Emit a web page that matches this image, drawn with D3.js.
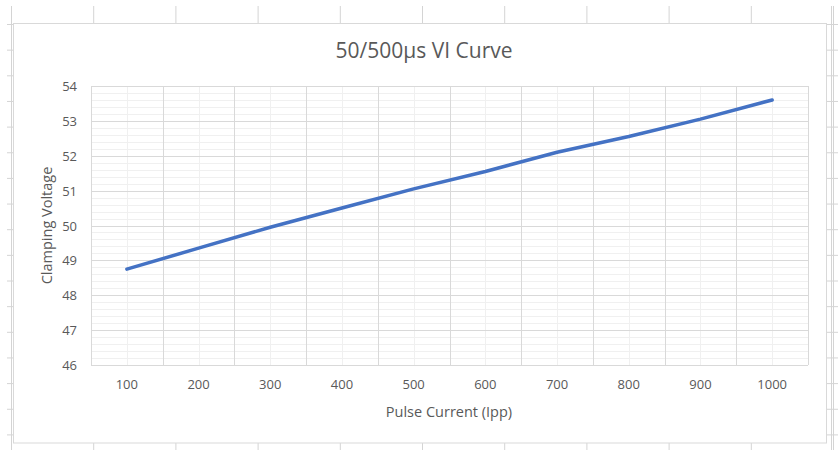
<!DOCTYPE html>
<html>
<head>
<meta charset="utf-8">
<script src="https://cdn.jsdelivr.net/npm/d3@7"></script>
<style>
  body { margin: 0; background: #fff; }
  text { font-family: "Open Sans", sans-serif; }
</style>
</head>
<body>
<svg width="838" height="450"></svg>
<script>
// data
const categories = [100, 200, 300, 400, 500, 600, 700, 800, 900, 1000];
const clampingVoltage = [48.75, 49.35, 49.95, 50.5, 51.05, 51.55, 52.1, 52.55, 53.05, 53.6];
const yTickValues = [46, 47, 48, 49, 50, 51, 52, 53, 54];
const chartTitle = "50/500µs VI Curve";
const xTitle = "Pulse Current (Ipp)";
const yTitle = "Clamping Voltage";

const svg = d3.select("svg");

// spreadsheet cells behind the chart
const sheet = svg.append("g").attr("stroke", "#d4d4d4").attr("stroke-width", 1);
const colW = 82.2, rowH = 25.65;
for (let cx = 11.5; cx < 840; cx += colW) {
  sheet.append("line").attr("x1", cx).attr("x2", cx).attr("y1", 6).attr("y2", 450);
}
sheet.append("line").attr("x1", 831.5).attr("x2", 831.5).attr("y1", 6).attr("y2", 450);
for (let ry = 24.5; ry < 450; ry += rowH) {
  sheet.append("line").attr("x1", 7).attr("x2", 14).attr("y1", ry).attr("y2", ry);
  sheet.append("line").attr("x1", 826).attr("x2", 838).attr("y1", ry).attr("y2", ry);
}

// chart area
svg.append("rect")
  .attr("x", 13.5).attr("y", 23.5).attr("width", 813).attr("height", 419.5)
  .attr("fill", "#fff").attr("stroke", "#d9d9d9");

const plot = { left: 91, right: 808, top: 86, bottom: 365 };

const x = d3.scaleBand().domain(categories).range([plot.left, plot.right]).padding(0);
const y = d3.scaleLinear().domain([46, 54]).range([plot.bottom, plot.top]);

const g = svg.append("g");

// minor gridlines
const minorY = d3.range(46, 54.001, 0.2).filter((v) => Math.abs(v - Math.round(v)) > 0.01);
g.selectAll(".minor-h").data(minorY).enter().append("line")
  .attr("x1", plot.left).attr("x2", plot.right)
  .attr("y1", (d) => Math.round(y(d)) + 0.5).attr("y2", (d) => Math.round(y(d)) + 0.5)
  .attr("stroke", "#f0f0f0");
g.selectAll(".minor-v").data(categories).enter().append("line")
  .attr("x1", (d) => Math.round(x(d) + x.bandwidth() / 2) + 0.5)
  .attr("x2", (d) => Math.round(x(d) + x.bandwidth() / 2) + 0.5)
  .attr("y1", plot.top).attr("y2", plot.bottom)
  .attr("stroke", "#f0f0f0");

// major gridlines
g.selectAll(".major-h").data(yTickValues).enter().append("line")
  .attr("x1", plot.left).attr("x2", plot.right)
  .attr("y1", (d) => Math.round(y(d)) + 0.5).attr("y2", (d) => Math.round(y(d)) + 0.5)
  .attr("stroke", "#d9d9d9");
const bounds = categories.map((c) => x(c)).concat([plot.right]);
g.selectAll(".major-v").data(bounds).enter().append("line")
  .attr("x1", (d) => Math.round(d) + 0.5).attr("x2", (d) => Math.round(d) + 0.5)
  .attr("y1", plot.top).attr("y2", plot.bottom)
  .attr("stroke", "#d9d9d9");

// tick labels
g.selectAll(".ylab").data(yTickValues).enter().append("text")
  .attr("x", 77).attr("y", (d) => y(d) + 5)
  .attr("text-anchor", "end").attr("font-size", 13).attr("fill", "#595959")
  .text((d) => d);
g.selectAll(".xlab").data(categories).enter().append("text")
  .attr("x", (d) => x(d) + x.bandwidth() / 2).attr("y", 389)
  .attr("text-anchor", "middle").attr("font-size", 13).attr("fill", "#595959")
  .text((d) => d);

// line
const line = d3.line()
  .x((d, i) => x(categories[i]) + x.bandwidth() / 2)
  .y((d) => y(d));
g.append("path").datum(clampingVoltage)
  .attr("d", line)
  .attr("fill", "none").attr("stroke", "#4472c4")
  .attr("stroke-width", 3.5).attr("stroke-linecap", "round").attr("stroke-linejoin", "round");

// titles
svg.append("text").attr("x", 424).attr("y", 58)
  .attr("text-anchor", "middle").attr("font-size", 21).attr("fill", "#595959")
  .text(chartTitle);
svg.append("text").attr("x", 449).attr("y", 417)
  .attr("text-anchor", "middle").attr("font-size", 14.5).attr("fill", "#595959")
  .text(xTitle);
svg.append("text")
  .attr("transform", "translate(52," + (plot.top + plot.bottom) / 2 + ") rotate(-90)")
  .attr("text-anchor", "middle").attr("font-size", 14.5).attr("fill", "#595959")
  .text(yTitle);
</script>
</body>
</html>
